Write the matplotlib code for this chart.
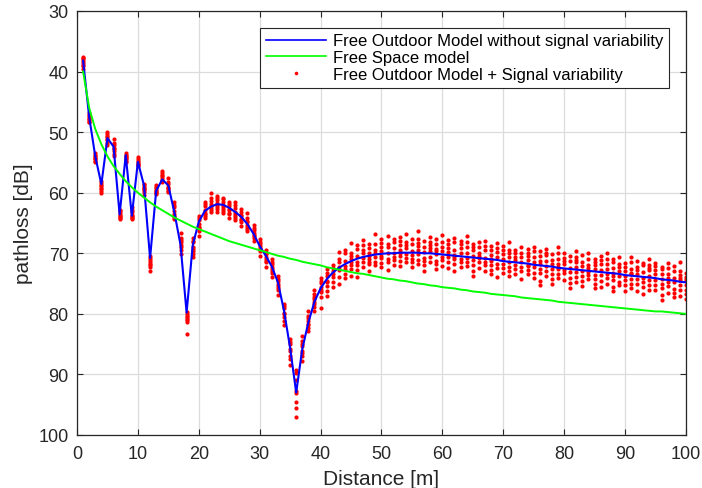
import numpy as np
import matplotlib

matplotlib.use("Agg")
import matplotlib.pyplot as plt
from matplotlib.lines import Line2D

plt.rcParams["font.family"] = ["Liberation Sans", "DejaVu Sans"]

# distances in metres, one sample per metre
distance = np.arange(1, 101)

# two-ray "Free Outdoor" path loss [dB]
outdoor_loss = [
    38.2, 47.5, 54.0, 58.6, 51.0, 52.4, 63.6, 53.8, 63.8, 54.9,
    58.8, 70.8, 59.7, 57.8, 58.8, 63.3, 68.6, 79.8, 68.7, 64.8,
    63.0, 62.3, 61.9, 62.0, 62.5, 63.2, 64.0, 65.2, 66.8, 68.8,
    70.4, 72.2, 74.8, 79.5, 85.6, 93.0, 85.8, 81.4, 78.0, 75.8,
    74.3, 73.2, 72.4, 71.8, 71.3, 70.9, 70.6, 70.4, 70.2, 70.1,
    70.0, 70.0, 69.9, 69.9, 69.9, 69.9, 70.0, 70.0, 70.1, 70.2,
    70.3, 70.4, 70.5, 70.6, 70.7, 70.8, 70.9, 71.0, 71.1, 71.3,
    71.4, 71.5, 71.6, 71.7, 71.9, 72.0, 72.1, 72.2, 72.4, 72.5,
    72.6, 72.7, 72.8, 72.9, 73.0, 73.1, 73.2, 73.3, 73.4, 73.6,
    73.7, 73.8, 73.9, 74.0, 74.1, 74.3, 74.4, 74.5, 74.7, 74.8,
]

# free space path loss [dB]
free_space_loss = [
    40.0, 46.0, 49.5, 52.0, 54.0, 55.6, 56.9, 58.1, 59.1, 60.0,
    60.8, 61.6, 62.3, 62.9, 63.5, 64.1, 64.6, 65.1, 65.6, 66.0,
    66.4, 66.8, 67.2, 67.6, 68.0, 68.3, 68.6, 68.9, 69.2, 69.5,
    69.8, 70.1, 70.4, 70.6, 70.9, 71.1, 71.4, 71.6, 71.8, 72.0,
    72.3, 72.5, 72.7, 72.9, 73.1, 73.3, 73.4, 73.6, 73.8, 74.0,
    74.2, 74.3, 74.5, 74.6, 74.8, 75.0, 75.1, 75.3, 75.4, 75.6,
    75.7, 75.8, 76.0, 76.1, 76.3, 76.4, 76.5, 76.7, 76.8, 76.9,
    77.0, 77.1, 77.3, 77.4, 77.5, 77.6, 77.7, 77.8, 78.0, 78.1,
    78.2, 78.3, 78.4, 78.5, 78.6, 78.7, 78.8, 78.9, 79.0, 79.1,
    79.2, 79.3, 79.4, 79.5, 79.6, 79.6, 79.7, 79.8, 79.9, 80.0,
]

# red samples, as dB offsets from the blue curve at each distance
variability = [
    [-0.5, 0.1, 0.7, -0.2, 1.3, 0.4, -0.6, 0.9],
    [-0.4, 0.3, 0.8, -0.2, 0.5, -0.6, 0.1, 0.9],
    [-0.6, 0.2, 0.7, -0.3, 0.5, 0.9, -0.1, 0.3],
    [-0.5, 0.3, 1.2, 0.6, -0.2, 1.4, 0.1, 0.8],
    [-1.1, -0.4, 0.3, 0.8, -0.7, 1.1, 0.1, -0.2],
    [-1.2, -0.3, 0.4, 1.2, 0.7, -0.6, 1.5, 0.2],
    [-0.6, 0.2, 0.5, -0.3, 0.8, 0.1, -0.8, 0.4],
    [-0.3, 0.4, 0.9, 0.1, 1.2, -0.1, 0.6, 0.3],
    [-1.5, -0.6, 0.2, 0.5, -1.0, 0.4, -0.2, 0.1],
    [-0.8, 0.3, 0.7, -0.4, 0.1, 0.6, -0.2, 0.4],
    [-0.3, 0.4, 1.1, 0.8, 1.6, 0.2, -0.1, 0.6],
    [-0.4, 0.3, 0.9, 1.5, 2.2, 0.6, 1.1, -0.1],
    [-0.9, -0.4, 0.2, 0.5, -0.6, 0.3, 0.0, -0.2],
    [-1.3, -0.8, -0.2, 0.3, -0.5, 0.4, -1.0, 0.1],
    [-1.3, -0.5, 0.2, 0.6, 1.1, -0.2, 0.4, 0.9],
    [-1.8, -0.9, -0.3, 0.5, 1.0, 0.2, -1.3, 0.7],
    [-2.0, -1.2, -0.4, 0.3, 0.9, 1.5, -0.8, 0.1],
    [-0.1, 0.3, 0.8, 1.2, 1.6, 0.5, 3.6, 1.0],
    [-1.2, -0.5, 0.3, 1.0, 1.9, 0.6, -0.8, 1.4],
    [-0.9, -0.3, 0.4, 1.1, 2.3, 0.8, -0.6, 1.6],
    [-1.5, -0.8, -0.2, 0.5, 1.2, -1.1, 0.3, 0.9],
    [-2.2, -1.0, -0.4, 0.3, 0.9, -1.5, 0.6, -0.1],
    [-1.4, -0.7, 0.2, 0.8, 1.3, -1.0, 0.5, -0.2],
    [-1.2, -0.5, 0.1, 0.7, 1.4, -0.9, 0.4, 1.0],
    [-1.0, -0.3, 0.4, 1.0, 1.7, -0.6, 0.8, 0.2],
    [-1.6, -0.7, 0.0, 0.6, 1.3, -1.1, 0.9, 0.3],
    [-1.3, -0.4, 0.3, 0.9, 1.5, -0.8, 0.5, -0.1],
    [-1.9, -1.1, -0.3, 0.4, 1.1, -0.6, 0.8, 0.1],
    [-1.4, -0.6, 0.2, 0.7, 1.2, -1.0, 0.4, -0.2],
    [-1.1, -0.4, 0.3, 0.9, 1.6, -0.7, 0.6, 0.0],
    [-0.9, -0.2, 0.5, 1.1, 1.8, 0.2, 0.8, -0.5],
    [-1.2, -0.5, 0.4, 1.0, 1.7, 0.1, 0.7, -0.8],
    [-1.0, -0.3, 0.6, 1.3, 2.1, 0.2, 0.9, -0.6],
    [-1.1, -0.4, 0.3, 1.0, 2.4, 0.6, -0.8, 1.7],
    [-1.4, -0.6, 0.5, 1.3, 2.8, 0.2, 1.9, -0.9],
    [-3.8, -3.3, -2.1, -0.2, 0.1, 1.6, 2.5, 4.1],
    [-2.1, -1.3, -0.5, 0.4, 1.2, 2.0, -0.9, 0.7],
    [-1.9, -1.0, -0.3, 0.5, 1.4, -0.7, 0.9, 0.2],
    [-2.0, -1.2, -0.4, 0.4, 1.5, -0.8, 0.8, 0.1],
    [-1.8, -0.9, -0.2, 0.6, 1.4, 3.2, -1.3, 0.3],
    [-1.7, -0.6, 0.2, 1.1, 1.9, 2.8, -1.1, 0.5],
    [-1.2, -0.3, 0.7, 1.6, 2.3, -0.8, 0.2],
    [-2.6, -1.5, -0.2, 0.4, 1.5, 2.6, -0.9],
    [-2.3, -1.9, -0.6, 0.3, 0.8, 1.6, 2.2],
    [-3.0, -1.4, -0.9, 0.1, 0.6, 1.3, 2.4, -0.3],
    [-2.2, -1.6, -0.4, 0.5, 1.1, 1.9, 3.0],
    [-2.8, -1.1, -0.6, 0.2, 0.9, 1.7, -2.0],
    [-2.0, -1.3, 0.1, 0.6, 1.4, 2.5, -0.5, 1.0],
    [-3.4, -1.7, -0.8, 0.4, 1.2, 1.8, -0.2],
    [-2.4, -1.2, -0.5, 0.3, 0.7, 1.5, 2.1, -1.8],
    [-2.9, -1.5, -1.0, -0.1, 0.9, 1.4, 2.7],
    [-1.9, -0.8, 0.0, 0.6, 1.1, 1.9, -2.4],
    [-2.6, -2.0, -1.2, -0.4, 0.5, 1.3, 2.2, 0.1],
    [-3.1, -1.8, -0.7, 0.2, 0.8, 1.6, -1.3],
    [-2.2, -1.4, -0.3, 0.4, 1.0, 2.3, 1.6],
    [-3.6, -2.3, -1.1, -0.5, 0.3, 1.2, 1.8, -1.6],
    [-2.1, -1.0, -0.2, 0.7, 1.3, 2.0, 2.9],
    [-2.7, -1.9, -0.9, -0.3, 0.6, 1.5, -1.4],
    [-2.4, -1.6, -0.4, 0.1, 1.1, 1.7, 2.5, -0.8],
    [-3.2, -2.0, -1.3, -0.6, 0.4, 0.9, 1.9],
    [-2.5, -1.1, -0.5, 0.3, 1.2, 2.1, -1.8],
    [-2.9, -2.2, -1.0, -0.1, 0.6, 1.4, 2.6, 0.2],
    [-2.0, -1.4, -0.6, 0.5, 1.0, 1.8, -2.6],
    [-3.5, -2.4, -1.6, -0.7, 0.2, 0.8, 1.5],
    [-2.3, -1.2, -0.3, 0.4, 1.3, 2.2, 3.1, -1.7],
    [-2.6, -1.8, -0.9, 0.0, 0.7, 1.6, -0.4],
    [-3.0, -2.1, -1.4, -0.2, 0.5, 1.1, 2.0],
    [-2.2, -1.5, -0.7, 0.3, 0.9, 1.7, 2.4, -0.1],
    [-2.8, -1.3, -0.5, 0.6, 1.4, 2.8, -2.0],
    [-2.5, -1.9, -1.1, -0.3, 0.4, 1.2, 1.9],
    [-3.3, -2.0, -0.8, 0.1, 0.8, 1.5, 2.3, -1.4],
    [-2.1, -1.6, -0.4, 0.5, 1.1, 2.0, -0.9],
    [-2.7, -1.7, -1.0, -0.2, 0.6, 1.3, 2.7],
    [-2.4, -1.2, -0.6, 0.2, 1.0, 1.8, -1.8, 0.4],
    [-3.0, -2.2, -1.3, -0.4, 0.3, 1.4, 2.2],
    [-2.3, -1.5, -0.3, 0.6, 1.2, 2.5, -0.8, 3.3],
    [-2.8, -1.8, -0.9, 0.0, 0.9, 1.6, -2.2],
    [-2.0, -1.1, -0.5, 0.4, 1.3, 2.0, 2.9],
    [-3.4, -2.5, -1.4, -0.6, 0.2, 1.1, 1.7, -0.2],
    [-2.6, -1.7, -0.8, 0.3, 0.8, 1.9, -1.2],
    [-2.2, -1.4, -0.2, 0.5, 1.5, 2.3, 3.2],
    [-3.0, -2.1, -1.2, -0.5, 0.4, 1.2, -1.6, 2.0],
    [-2.5, -1.3, -0.7, 0.1, 1.0, 1.7, 2.6],
    [-2.9, -1.9, -1.0, 0.2, 0.7, 1.4, -0.4],
    [-2.1, -1.6, -0.4, 0.6, 1.2, 2.1, -1.1, 2.8],
    [-2.7, -2.0, -1.3, -0.3, 0.5, 1.5, 2.4],
    [-3.2, -1.5, -0.6, 0.3, 0.9, 1.8, -2.3],
    [-2.4, -1.8, -0.9, -0.1, 1.1, 2.2, 3.0, 0.5],
    [-2.8, -1.2, -0.5, 0.4, 1.3, 1.9, -1.7],
    [-2.0, -1.4, -0.7, 0.2, 0.8, 1.6, 2.7],
    [-3.1, -2.2, -1.1, -0.4, 0.6, 1.4, 2.1, -0.2],
    [-2.6, -1.6, -0.3, 0.5, 1.2, 2.4, -1.0],
    [-2.3, -1.9, -0.8, 0.1, 0.9, 1.7, 2.9],
    [-3.0, -2.1, -1.2, -0.2, 0.4, 1.3, 2.0, -1.6],
    [-2.5, -1.3, -0.6, 0.3, 1.1, 1.9, -2.0],
    [-2.1, -1.7, -0.9, 0.0, 0.7, 1.5, 2.6, 3.4],
    [-2.8, -2.0, -1.0, 0.4, 1.0, 2.2, -0.4],
    [-2.4, -1.5, -0.5, 0.2, 1.4, 2.0, 2.8],
    [-3.3, -1.8, -1.1, -0.3, 0.6, 1.3, 2.3, -0.7],
    [-1.5, -0.9, -0.3, 0.5, 1.2, 2.0, 2.7, -0.6],
]

x_ticks = [0, 10, 20, 30, 40, 50, 60, 70, 80, 90, 100]
y_ticks = [30, 40, 50, 60, 70, 80, 90, 100]

axis_color = "#262626"

fig = plt.figure(figsize=(7.02, 4.89), dpi=100)
ax = fig.add_axes([0.1097, 0.1084, 0.8673, 0.8671])

# scatter of the noisy samples
sample_x = []
sample_y = []
for d, base, offs in zip(distance, outdoor_loss, variability):
    for o in offs:
        sample_x.append(d)
        sample_y.append(base + o)
ax.plot(sample_x, sample_y, ls="none", marker="o", ms=3.0, mew=0,
        color="red", zorder=2)

ax.plot(distance, outdoor_loss, color="blue", lw=1.5, zorder=3)
ax.plot(distance, free_space_loss, color="#00ff00", lw=1.4, zorder=3)

ax.set_xlim(0, 100)
ax.set_ylim(100, 30)
ax.set_xticks(x_ticks)
ax.set_yticks(y_ticks)
ax.grid(True, color="#dcdcdc", lw=0.9)
ax.set_axisbelow(True)

ax.tick_params(direction="in", length=4.5, width=0.8, colors=axis_color,
               labelsize=13, top=True, right=True)
ax.tick_params(axis="x", pad=7)
ax.tick_params(axis="y", pad=6)
for sp in ax.spines.values():
    sp.set_color(axis_color)
    sp.set_linewidth(0.9)

ax.set_xlabel("Distance [m]", fontsize=15, color=axis_color, labelpad=5)
ax.set_ylabel("pathloss [dB]", fontsize=15, color=axis_color, labelpad=4)

handles = [
    Line2D([], [], color="blue", lw=1.2),
    Line2D([], [], color="#00ff00", lw=1.2),
    Line2D([], [], ls="none", marker="o", ms=2.6, mew=0, color="red"),
]
labels = [
    "Free Outdoor Model without signal variability",
    "Free Space model",
    "Free Outdoor Model + Signal variability",
]
leg = ax.legend(handles, labels, loc="upper right", fontsize=12,
                fancybox=False, framealpha=1, edgecolor=axis_color,
                handlelength=3.6, handletextpad=0.4, borderpad=0.35,
                labelspacing=0.1, borderaxespad=1.0)
leg.get_frame().set_linewidth(0.8)

fig.savefig("out.png", dpi=100)
